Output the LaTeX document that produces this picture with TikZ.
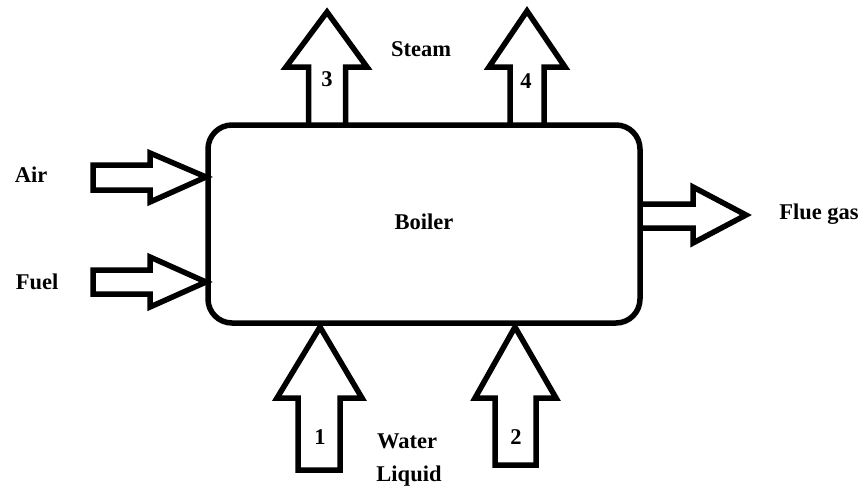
\documentclass[tikz,border=0pt]{standalone}
\usepackage{fontspec}
\setmainfont{Liberation Serif}
\usepackage{tikz}

\begin{document}
\begin{tikzpicture}[
    x=1pt, y=-1pt,
    lbl/.style={font=\fontsize{22.5}{26}\selectfont\bfseries, inner sep=0pt},
    blk/.style={line width=5.5pt, line join=miter, miter limit=10},
    tank/.style={draw, line width=5.5pt, rounded corners=24pt, minimum width=432pt, minimum height=198pt}
]
\useasboundingbox (0,0) rectangle (864,488);

% boiler
\node[tank] (boiler) at (424,224) {};
\node[lbl] (blab) at (424,222) {Boiler};

% steam out
\draw[blk] (308.5,125) -- (308.5,67) -- (286,67) -- (327,12) -- (367,67) -- (345.5,67) -- (345.5,125);
\draw[blk] (510,125) -- (510,67) -- (489,67) -- (527,11) -- (565,67) -- (544,67) -- (544,125);
\node[lbl] (n3) at (327,79) {3};
\node[lbl] (n4) at (526,81) {4};
\node[lbl] (steam) at (421,49) {Steam};

% air and fuel in
\draw[blk] (206,177) -- (150,153) -- (150,165) -- (93,165) -- (93,190) -- (150,190) -- (150,202) -- cycle;
\draw[blk] (206,282) -- (150,257) -- (150,270) -- (93,270) -- (93,294) -- (150,294) -- (150,307) -- cycle;
\node[lbl] (air) at (31,175) {Air};
\node[lbl] (fuel) at (37,282) {Fuel};

% flue gas out
\draw[blk] (640,204) -- (693,204) -- (693,187) -- (746,215) -- (693,243) -- (693,228) -- (640,228);
\node[lbl] (flue) at (819,214) {Flue gas};

% water in
\draw[blk] (320,327) -- (362,398) -- (340,398) -- (340,470) -- (298,470) -- (298,398) -- (277,398) -- cycle;
\draw[blk] (515,327) -- (556,398) -- (536,398) -- (536,465) -- (495,465) -- (495,398) -- (475,398) -- cycle;
\node[lbl] (n1) at (320,437) {1};
\node[lbl] (n2) at (516,437) {2};
\node[lbl] (water) at (407,441) {Water};
\node[lbl] (liquid) at (409,476) {Liquid};
\end{tikzpicture}
\end{document}
